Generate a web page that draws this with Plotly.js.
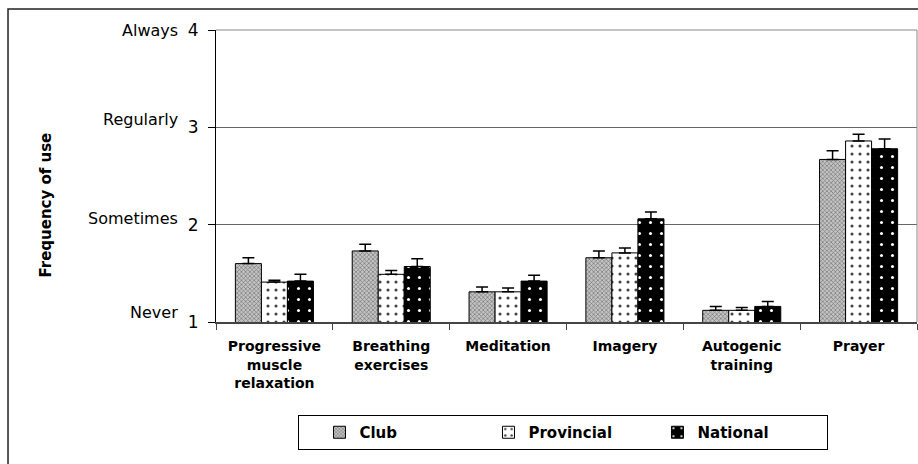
<!DOCTYPE html>
<html>
<head>
<meta charset="utf-8">
<script src="https://cdn.plot.ly/plotly-3.0.1.min.js"></script>
<style>
  html, body { margin: 0; padding: 0; background: #ffffff; }
  #chart { width: 918px; height: 464px; }
</style>
</head>
<body>
<div id="chart"></div>
<script>
// Categories (x axis)
const categories = [
  'Progressive<br>muscle<br>relaxation',
  'Breathing<br>exercises',
  'Meditation',
  'Imagery',
  'Autogenic<br>training',
  'Prayer'
];

// Series values (mean frequency of use) and upper error bars
const clubValues       = [1.60, 1.73, 1.31, 1.66, 1.12, 2.67];
const clubErrors       = [0.06, 0.07, 0.05, 0.07, 0.04, 0.09];
const provincialValues = [1.41, 1.49, 1.31, 1.71, 1.12, 2.86];
const provincialErrors = [0.02, 0.04, 0.04, 0.05, 0.03, 0.07];
const nationalValues   = [1.42, 1.57, 1.42, 2.06, 1.16, 2.78];
const nationalErrors   = [0.07, 0.08, 0.06, 0.07, 0.05, 0.10];

// Y axis ticks and their verbal anchors
const yTickValues = [1, 2, 3, 4];
const yTickNumbers = ['1', '2', '3', '4'];
const yTickWords = ['Never', 'Sometimes', 'Regularly', 'Always'];
const yWordShift = [10, 6, 8, 0];

const seriesNames = ['Club', 'Provincial', 'National'];
const yAxisTitle = 'Frequency of use';

const zeros = n => n.map(() => 0);

function errBar(arr) {
  return {
    type: 'data', symmetric: false, array: arr, arrayminus: zeros(arr),
    color: '#000000', thickness: 1.5, width: 6, visible: true
  };
}

const traces = [
  {
    type: 'bar', name: seriesNames[0], x: categories, y: clubValues,
    error_y: errBar(clubErrors),
    marker: {
      color: '#b0b0b0',
      line: { color: '#000000', width: 1 },
      pattern: { shape: 'x', size: 3, solidity: 0.35, fgcolor: '#6a6a6a', bgcolor: '#c4c4c4', fillmode: 'replace' }
    }
  },
  {
    type: 'bar', name: seriesNames[1], x: categories, y: provincialValues,
    error_y: errBar(provincialErrors),
    marker: {
      color: '#ffffff',
      line: { color: '#000000', width: 1 },
      pattern: { shape: '.', size: 8, solidity: 0.12, fgcolor: '#444444', bgcolor: '#ffffff', fillmode: 'replace' }
    }
  },
  {
    type: 'bar', name: seriesNames[2], x: categories, y: nationalValues,
    error_y: errBar(nationalErrors),
    marker: {
      color: '#000000',
      line: { color: '#000000', width: 1 },
      pattern: { shape: '.', size: 11, solidity: 0.06, fgcolor: '#ffffff', bgcolor: '#000000', fillmode: 'replace' }
    }
  }
];

const annotations = yTickValues.map((v, i) => ({
  xref: 'paper', yref: 'y', x: -0.0514, y: v,
  xanchor: 'right', yanchor: 'middle', yshift: yWordShift[i],
  text: yTickWords[i], showarrow: false,
  font: { family: 'DejaVu Sans', size: 16, color: '#000000' }
}));

annotations.push({
  xref: 'paper', yref: 'paper', x: -0.242, y: 0.4,
  xanchor: 'center', yanchor: 'middle', textangle: -90,
  text: yAxisTitle, showarrow: false,
  font: { family: 'DejaVu Sans', size: 15, color: '#000000', weight: 'bold' }
});

const layout = {
  width: 918, height: 464,
  margin: { l: 216, r: 1, t: 30, b: 142 },
  paper_bgcolor: '#ffffff', plot_bgcolor: '#ffffff',
  bargap: 0.332, bargroupgap: 0,
  barmode: 'group',
  showlegend: true,
  xaxis: {
    type: 'category',
    tickson: 'boundaries', ticks: 'outside', ticklen: 6, tickcolor: '#444444', tickwidth: 1,
    showline: true, linecolor: '#444444', linewidth: 1.5,
    showgrid: false, zeroline: false,
    tickfont: { family: 'DejaVu Sans', size: 14, color: '#000000', weight: 'bold' },
    ticklabelstandoff: 11
  },
  yaxis: {
    range: [1, 4],
    tickvals: yTickValues, ticktext: yTickNumbers,
    ticks: 'outside', ticklen: 7, tickcolor: '#000000',
    showline: true, linecolor: '#000000', linewidth: 1,
    showgrid: true, gridcolor: '#666666', gridwidth: 1,
    zeroline: false,
    tickfont: { family: 'DejaVu Sans', size: 17, color: '#000000' },
    ticklabelstandoff: 6
  },
  legend: {
    orientation: 'h', x: 0.117, xanchor: 'left', y: -0.3185, yanchor: 'top',
    bordercolor: '#000000', borderwidth: 1, bgcolor: '#ffffff',
    font: { family: 'DejaVu Sans', size: 15, color: '#000000', weight: 'bold' },
    title: { text: '\u00a0\u00a0', side: 'left', font: { family: 'DejaVu Sans', size: 15 } },
    entrywidth: 124, entrywidthmode: 'pixels', traceorder: 'normal'
  },
  annotations: annotations,
  shapes: [
    { type: 'line', xref: 'paper', yref: 'paper', x0: 1, x1: 1, y0: 0, y1: 1,
      line: { color: '#888888', width: 1 } },
    { type: 'line', xref: 'paper', yref: 'paper', x0: 0, x1: 1, y0: 1, y1: 1,
      line: { color: '#888888', width: 1 } },
    { type: 'rect', xref: 'paper', yref: 'paper', x0: -0.2967, x1: 1.0114, y0: -0.507, y1: 1.0719,
      line: { color: '#222222', width: 1.5 }, fillcolor: 'rgba(0,0,0,0)', layer: 'below' }
  ]
};

Plotly.newPlot('chart', traces, layout, { displayModeBar: false, staticPlot: true });
</script>
</body>
</html>
